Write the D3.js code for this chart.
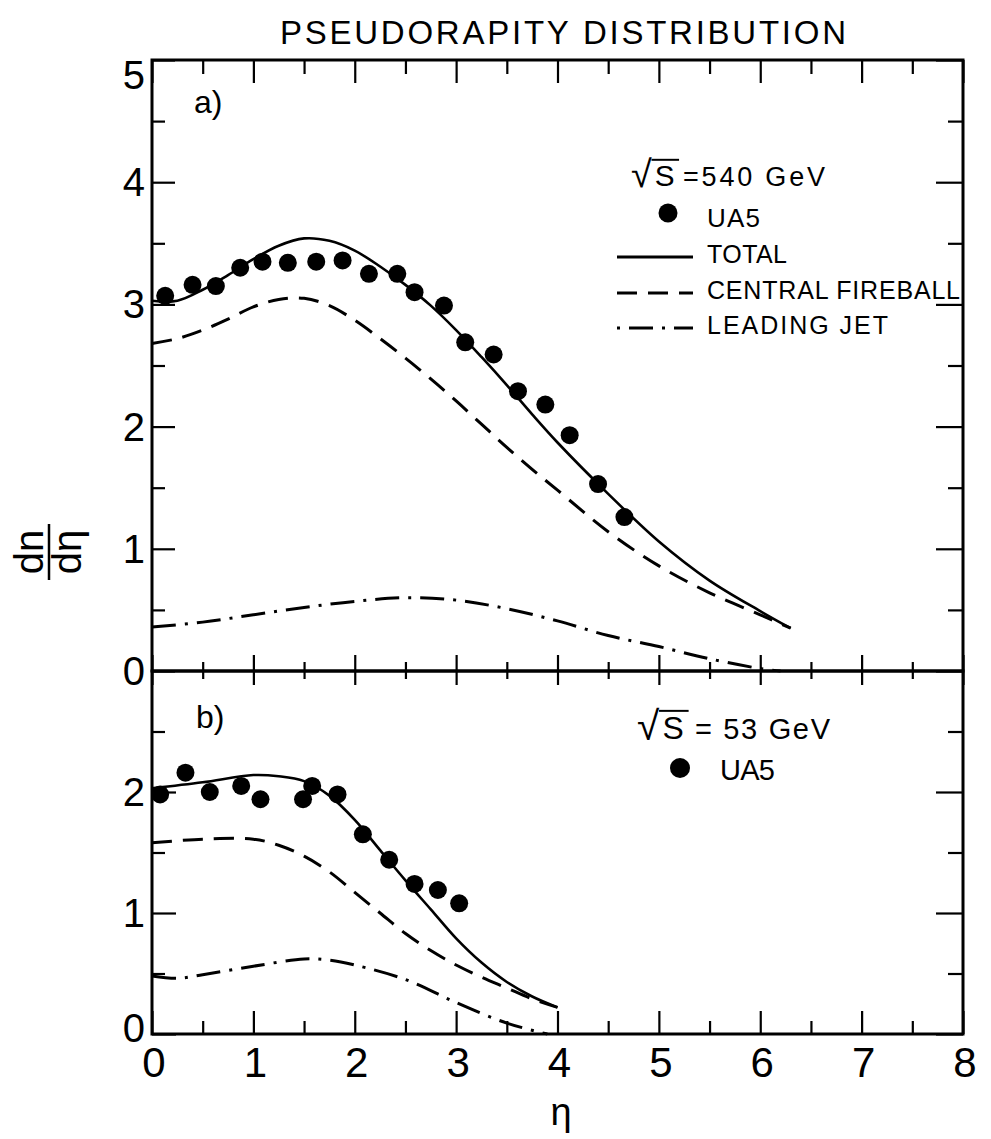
<!DOCTYPE html>
<html>
<head>
<meta charset="utf-8">
<script src="https://cdn.jsdelivr.net/npm/d3@7"></script>
<style>
  body { margin: 0; background: #fff; }
  svg text { font-family: "Liberation Sans", Arial, sans-serif; fill: #000; }
</style>
</head>
<body>
<div id="chart"></div>
<script>

// ---- data ----
const etaMajor = [0, 1, 2, 3, 4, 5, 6, 7, 8];
const etaMinor = [0.5, 1.5, 2.5, 3.5, 4.5, 5.5, 6.5, 7.5];
const yMajorA  = [0, 1, 2, 3, 4, 5];
const yMinorA  = [0.5, 1.5, 2.5, 3.5, 4.5];
const yLabelsA = [0, 1, 2, 3, 4, 5];
const yMajorB  = [0, 1, 2];
const yMinorB  = [0.5, 1.5, 2.5];
const yLabelsB = [0, 1, 2];

// a) sqrt(s) = 540 GeV, UA5 points
const ua5_540 = [
    [0.13, 3.07], [0.40, 3.16], [0.63, 3.15], [0.87, 3.30], [1.09, 3.35],
    [1.34, 3.34], [1.62, 3.35], [1.88, 3.36], [2.14, 3.25], [2.42, 3.25],
    [2.59, 3.10], [2.88, 2.99], [3.09, 2.69], [3.37, 2.59], [3.61, 2.29],
    [3.88, 2.18], [4.12, 1.93], [4.40, 1.53], [4.66, 1.26]
];
const total540 = [
    [0, 3.03], [0.25, 3.03], [0.5, 3.12], [0.75, 3.24], [1.0, 3.37],
    [1.25, 3.48], [1.5, 3.54], [1.75, 3.52], [2.0, 3.44], [2.25, 3.31],
    [2.5, 3.16], [2.75, 2.99], [3.0, 2.79], [3.25, 2.57], [3.5, 2.34],
    [3.75, 2.10], [4.0, 1.87], [4.5, 1.45], [5.0, 1.06], [5.5, 0.74],
    [6.0, 0.49], [6.3, 0.35]
];
const fireball540 = [
    [0, 2.68], [0.25, 2.72], [0.5, 2.79], [0.75, 2.88], [1.0, 2.98],
    [1.25, 3.04], [1.5, 3.05], [1.75, 2.99], [2.0, 2.87], [2.25, 2.72],
    [2.5, 2.56], [2.75, 2.39], [3.0, 2.21], [3.25, 2.02], [3.5, 1.83],
    [3.75, 1.65], [4.0, 1.48], [4.5, 1.14], [5.0, 0.86], [5.5, 0.64],
    [6.0, 0.46], [6.3, 0.35]
];
const jet540 = [
    [0, 0.36], [0.5, 0.40], [1.0, 0.46], [1.5, 0.52], [2.0, 0.57],
    [2.5, 0.60], [3.0, 0.58], [3.5, 0.51], [4.0, 0.41], [4.5, 0.29],
    [5.0, 0.20], [5.5, 0.10], [6.0, 0.02], [6.2, 0.0]
];

// b) sqrt(s) = 53 GeV
const ua5_53 = [
    [0.08, 1.98], [0.33, 2.16], [0.57, 2.00], [0.88, 2.05], [1.07, 1.94],
    [1.49, 1.94], [1.58, 2.05], [1.83, 1.98], [2.08, 1.65], [2.34, 1.44],
    [2.59, 1.24], [2.82, 1.19], [3.03, 1.08]
];
const total53 = [
    [0, 2.03], [0.5, 2.08], [1.0, 2.14], [1.25, 2.13], [1.5, 2.09],
    [1.75, 1.97], [2.0, 1.77], [2.25, 1.52], [2.5, 1.27], [2.75, 1.03],
    [3.0, 0.79], [3.25, 0.59], [3.5, 0.43], [3.75, 0.31], [4.0, 0.22]
];
const fireball53 = [
    [0, 1.58], [0.5, 1.61], [1.0, 1.61], [1.25, 1.56], [1.5, 1.47],
    [1.75, 1.34], [2.0, 1.17], [2.25, 1.00], [2.5, 0.83], [2.75, 0.69],
    [3.0, 0.57], [3.25, 0.47], [3.5, 0.38], [3.75, 0.29], [4.0, 0.22]
];
const jet53 = [
    [0, 0.48], [0.25, 0.46], [0.5, 0.49], [1.0, 0.56], [1.5, 0.62],
    [1.75, 0.61], [2.0, 0.57], [2.5, 0.45], [3.0, 0.26], [3.5, 0.09],
    [3.9, 0.0]
];

const legendA = ['TOTAL', 'CENTRAL  FIREBALL', 'LEADING  JET'];


// ---- setup ----
const width  = 991,
      height = 1139;

const x  = d3.scaleLinear().domain([0, 8]).range([152, 963]);
const yA = d3.scaleLinear().domain([0, 5]).range([671, 60]);
const yB = d3.scaleLinear().domain([0, 3]).range([1034, 671]);

const dashed  = '20,11',
      dashDot = '24,9,3,9';

const svg = d3.select('#chart')
    .append('svg')
      .attr('width',  width)
      .attr('height', height);

// tick helper: no labels, no domain path
const ticks = (axisFn, scale, values, size, tx, ty) => {
    svg.append('g')
        .attr('transform', `translate(${tx}, ${ty})`)
        .call(axisFn(scale).tickValues(values).tickSize(size).tickSizeOuter(0).tickFormat(''))
        .call(g => g.select('.domain').remove())
        .call(g => g.selectAll('line').attr('stroke', '#000').attr('stroke-width', 2.2));
};

// top border, ticks hanging down
ticks(d3.axisTop, x, etaMajor, -23, 0, yA(5));
ticks(d3.axisTop, x, etaMinor, -14, 0, yA(5));
// middle line: up into a), down into b)
ticks(d3.axisBottom, x, etaMajor, -16, 0, yA(0));
ticks(d3.axisBottom, x, etaMinor, -9,  0, yA(0));
ticks(d3.axisBottom, x, etaMajor, 14,  0, yA(0));
ticks(d3.axisBottom, x, etaMinor, 8,   0, yA(0));
// bottom line, ticks up
ticks(d3.axisBottom, x, etaMajor, -23, 0, yB(0));
ticks(d3.axisBottom, x, etaMinor, -13, 0, yB(0));
// left and right, panel a)
ticks(d3.axisLeft,  yA, yMajorA, -23, x(0), 0);
ticks(d3.axisLeft,  yA, yMinorA, -13, x(0), 0);
ticks(d3.axisRight, yA, yMajorA, -27, x(8), 0);
ticks(d3.axisRight, yA, yMinorA, -15, x(8), 0);
// left and right, panel b)
ticks(d3.axisLeft,  yB, yMajorB, -24, x(0), 0);
ticks(d3.axisLeft,  yB, yMinorB, -13, x(0), 0);
ticks(d3.axisRight, yB, yMajorB, -27, x(8), 0);
ticks(d3.axisRight, yB, yMinorB, -15, x(8), 0);

// frames
[[yA(5), yA(0)], [yB(3), yB(0)]].forEach(([t, b]) => {
    svg.append('rect')
        .attr('x', x(0))
        .attr('y', t)
        .attr('width',  x(8) - x(0))
        .attr('height', b - t)
        .attr('fill', 'none')
        .attr('stroke', '#000')
        .attr('stroke-width', 3);
});

// tick labels
svg.selectAll('.xlab')
    .data(etaMajor)
    .enter()
    .append('text')
      .attr('x', d => x(d) + 2)
      .attr('y', yB(0) + 43)
      .attr('text-anchor', 'middle')
      .style('font-size', '42px')
      .text(d => d);

svg.selectAll('.ylabA')
    .data(yLabelsA)
    .enter()
    .append('text')
      .attr('x', x(0) - 7)
      .attr('y', d => d === 5 ? yA(d) + 29 : yA(d) + 14)
      .attr('text-anchor', 'end')
      .style('font-size', '40px')
      .text(d => d);

svg.selectAll('.ylabB')
    .data(yLabelsB)
    .enter()
    .append('text')
      .attr('x', x(0) - 7)
      .attr('y', d => d === 0 ? yB(d) + 8 : yB(d) + 14)
      .attr('text-anchor', 'end')
      .style('font-size', '40px')
      .text(d => d);

// axis titles
svg.append('text')
    .attr('x', 561)
    .attr('y', 1125)
    .attr('text-anchor', 'middle')
    .style('font-size', '38px')
    .text('η');

const ylab = svg.append('g')
    .attr('transform', 'translate(51, 552) rotate(-90)');
ylab.append('text')
    .attr('x', 0).attr('y', -8)
    .attr('text-anchor', 'middle')
    .style('font-size', '40px')
    .text('dn');
ylab.append('line')
    .attr('x1', -28).attr('x2', 28)
    .attr('y1', -2).attr('y2', -2)
    .attr('stroke', '#000').attr('stroke-width', 2.5);
ylab.append('text')
    .attr('x', 0).attr('y', 30)
    .attr('text-anchor', 'middle')
    .style('font-size', '40px')
    .text('dη');

svg.append('text')
    .attr('x', 280)
    .attr('y', 44)
    .attr('textLength', 566)
    .attr('lengthAdjust', 'spacing')
    .style('font-size', '33px')
    .text('PSEUDORAPITY  DISTRIBUTION');

// panel labels
svg.append('text').attr('x', 194).attr('y', 113).style('font-size', '32px').text('a)');
svg.append('text').attr('x', 196).attr('y', 728).style('font-size', '32px').text('b)');

// ---- curves ----
const drawCurve = (data, yScale, dash) => {
    const line = d3.line()
        .x(d => x(d[0]))
        .y(d => yScale(d[1]))
        .curve(d3.curveCatmullRom);
    svg.append('path')
        .datum(data)
        .attr('d', line)
        .attr('fill', 'none')
        .attr('stroke', '#000')
        .attr('stroke-width', dash ? 3 : 2.6)
        .attr('stroke-dasharray', dash);
};

drawCurve(total540,    yA, null);
drawCurve(fireball540, yA, dashed);
drawCurve(jet540,      yA, dashDot);
drawCurve(total53,     yB, null);
drawCurve(fireball53,  yB, dashed);
drawCurve(jet53,       yB, dashDot);

// data points
const drawPoints = (data, yScale) => {
    svg.append('g')
        .selectAll('circle')
        .data(data)
        .enter()
        .append('circle')
          .attr('cx', d => x(d[0]))
          .attr('cy', d => yScale(d[1]))
          .attr('r', 9)
          .attr('fill', '#000');
};

drawPoints(ua5_540, yA);
drawPoints(ua5_53,  yB);

// ---- legends ----
const sqrtS = (tx, ty, rest, size, restX, restLen) => {
    // radical drawn larger than the S it covers
    svg.append('text')
        .attr('x', tx).attr('y', ty + 1)
        .style('font-size', (size * 1.4) + 'px')
        .text('√');
    svg.append('text')
        .attr('x', tx + size * 0.88).attr('y', ty)
        .style('font-size', (size * 1.1) + 'px')
        .text('S');
    svg.append('line')
        .attr('x1', tx + size * 0.76).attr('x2', tx + size * 1.78)
        .attr('y1', ty - size * 0.97).attr('y2', ty - size * 0.97)
        .attr('stroke', '#000').attr('stroke-width', 2);
    svg.append('text')
        .attr('x', restX).attr('y', ty)
        .attr('textLength', restLen)
        .attr('lengthAdjust', 'spacing')
        .style('font-size', size + 'px')
        .text(rest);
};

// a)
sqrtS(631, 186, '=540 GeV', 27, 683, 142);
svg.append('circle').attr('cx', 668).attr('cy', 213).attr('r', 9.5).attr('fill', '#000');
svg.append('text').attr('x', 707).attr('y', 227)
    .attr('textLength', 53).attr('lengthAdjust', 'spacing')
    .style('font-size', '26px').text('UA5');

const legendStyles = [null, dashed, '3,9,24,9'];
const legendY = [257, 293, 328];
legendA.forEach((label, i) => {
    svg.append('line')
        .attr('x1', 617).attr('x2', 693)
        .attr('y1', legendY[i]).attr('y2', legendY[i])
        .attr('stroke', '#000')
        .attr('stroke-width', 3)
        .attr('stroke-dasharray', legendStyles[i]);
    svg.append('text')
        .attr('x', 707)
        .attr('y', legendY[i] + 6)
        .attr('textLength', [80, 253, 181][i])
        .attr('lengthAdjust', 'spacing')
        .style('font-size', '25px')
        .text(label);
});

// b)
sqrtS(637, 739, '= 53 GeV', 29, 695, 135);
svg.append('circle').attr('cx', 680).attr('cy', 768).attr('r', 10).attr('fill', '#000');
svg.append('text').attr('x', 720).attr('y', 780)
    .attr('textLength', 55).attr('lengthAdjust', 'spacing')
    .style('font-size', '29px').text('UA5');

</script>
</body>
</html>
